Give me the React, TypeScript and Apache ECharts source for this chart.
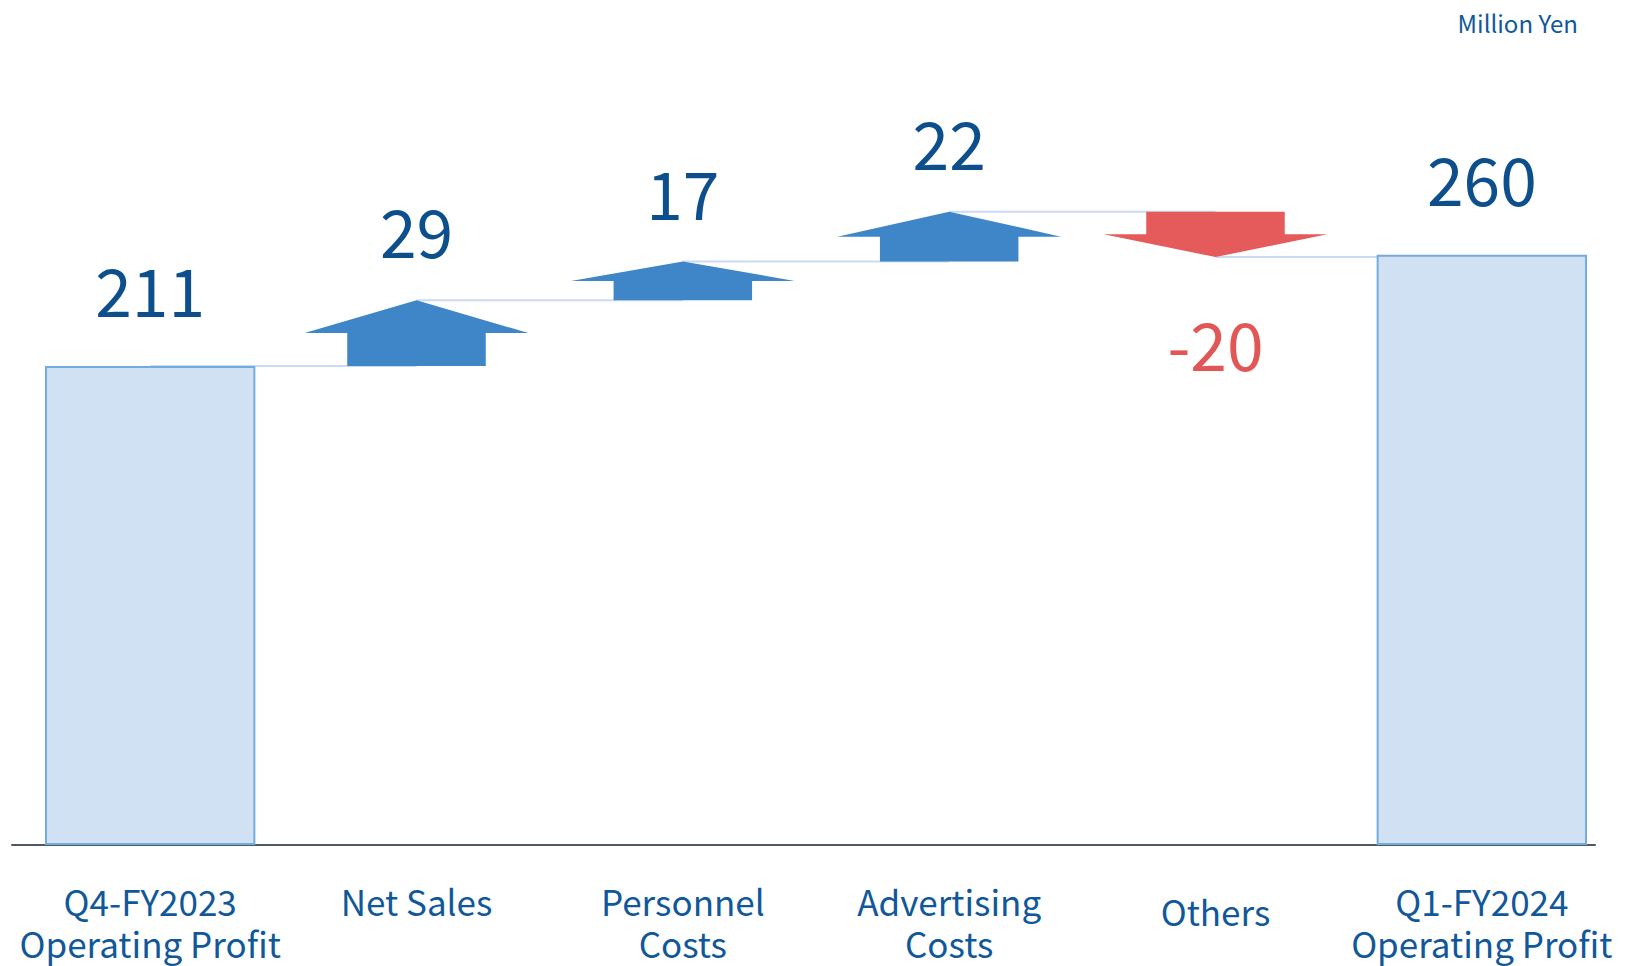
import React, { useEffect, useRef } from "react";
import * as echarts from "echarts";

const categories = [
  "Q4-FY2023\nOperating Profit",
  "Net Sales",
  "Personnel\nCosts",
  "Advertising\nCosts",
  "Others",
  "Q1-FY2024\nOperating Profit",
];
const startValue = 211;
const deltas = [29, 17, 22, -20];
const deltaLabels = ["29", "17", "22", "-20"];
const endValue = 260;
const unitLabel = "Million Yen";

const FONT = '"Noto Sans CJK JP", "Noto Sans", sans-serif';
const NAVY = "#0d4e8c";
const LABEL_BLUE = "#11589a";
const UP_BLUE = "#3f86c8";
const DOWN_RED = "#e55b5b";
const RED_TEXT = "#e25656";

export default function App() {
  const ref = useRef<HTMLDivElement>(null);

  useEffect(() => {
    if (!ref.current) return;
    const chart = echarts.init(ref.current, undefined, { renderer: "svg" });

    const arrowData: number[][] = [];
    let level = startValue;
    deltas.forEach((d, i) => {
      arrowData.push([i + 1, level, d]);
      level += d;
    });
    const connectorData: number[][] = [[0, startValue]];
    arrowData.forEach((a) => connectorData.push([a[0], a[1] + a[2]]));

    const barData = categories.map((_, i) =>
      i === 0 ? startValue : i === categories.length - 1 ? endValue : "-"
    );

    chart.setOption({
      animation: false,
      title: {
        text: unitLabel,
        right: 43,
        top: 5,
        textStyle: { fontFamily: FONT, fontSize: 24, fontWeight: "normal", color: LABEL_BLUE },
      },
      grid: [
        { left: 17, right: 11, top: 164, bottom: 121 },
        { left: 12, right: 31, top: 164, bottom: 121 },
      ],
      xAxis: [
        {
          type: "category",
          gridIndex: 0,
          data: categories,
          boundaryGap: true,
          axisLine: { show: false },
          axisTick: { show: false },
          axisLabel: {
            interval: 0,
            margin: 34,
            fontFamily: FONT,
            fontSize: 35,
            lineHeight: 42,
            color: LABEL_BLUE,
            formatter: (v: string) => (v === "Others" ? "{o|Others}" : v),
            rich: {
              o: { fontFamily: FONT, fontSize: 35, lineHeight: 62, color: LABEL_BLUE },
            },
          },
        },
        {
          type: "value",
          gridIndex: 1,
          min: 0,
          max: 1,
          axisLine: { show: true, onZero: false, lineStyle: { color: "#4f5866", width: 2 } },
          axisTick: { show: false },
          axisLabel: { show: false },
          splitLine: { show: false },
        },
      ],
      yAxis: [
        { type: "value", gridIndex: 0, min: 0, max: 300, show: false, splitLine: { show: false } },
        { type: "value", gridIndex: 1, min: 0, max: 1, show: false, splitLine: { show: false } },
      ],
      series: [
        {
          type: "custom",
          z: 1,
          data: connectorData,
          encode: { x: 0, y: 1 },
          renderItem: (params: any, api: any) => {
            const i = api.value(0);
            const v = api.value(1);
            const p0 = api.coord([i, v]);
            const p1 = api.coord([i + 1, v]);
            return {
              type: "line",
              shape: { x1: p0[0], y1: p0[1], x2: p1[0], y2: p1[1] },
              style: { stroke: "#c9dcf3", lineWidth: 2 },
            };
          },
        },
        {
          type: "bar",
          z: 3,
          data: barData,
          barWidth: "79%",
          itemStyle: { color: "#cfe1f3", borderColor: "#74abdd", borderWidth: 2 },
          label: {
            show: true,
            position: "top",
            distance: 45,
            fontFamily: FONT,
            fontSize: 66,
            color: NAVY,
          },
        },
        {
          type: "custom",
          z: 4,
          data: arrowData,
          encode: { x: 0, y: [1] },
          renderItem: (params: any, api: any) => {
            const i = api.value(0);
            const base = api.value(1);
            const d = api.value(2);
            const p0 = api.coord([i, base]);
            const p1 = api.coord([i, base + d]);
            const bw = api.size([1, 0])[0];
            const cx = p0[0];
            const hw = bw * 0.42;
            const sw = bw * 0.26;
            const mid = (p0[1] + p1[1]) / 2;
            const up = d >= 0;
            const color = up ? UP_BLUE : DOWN_RED;
            const labelY = up ? p1[1] - 71 : p1[1] + 85;
            return {
              type: "group",
              children: [
                {
                  type: "polygon",
                  shape: {
                    points: [
                      [cx - sw, p0[1]],
                      [cx - sw, mid],
                      [cx - hw, mid],
                      [cx, p1[1]],
                      [cx + hw, mid],
                      [cx + sw, mid],
                      [cx + sw, p0[1]],
                    ],
                  },
                  style: { fill: color },
                },
                {
                  type: "text",
                  x: cx,
                  y: labelY,
                  style: {
                    text: deltaLabels[params.dataIndex],
                    fill: up ? NAVY : RED_TEXT,
                    fontFamily: FONT,
                    fontSize: 66,
                    align: "center",
                    verticalAlign: "middle",
                  },
                },
              ],
            };
          },
        },
      ],
    });

    return () => chart.dispose();
  }, []);

  return (
    <div
      ref={ref}
      style={{ position: "fixed", left: 0, top: 0, width: 1626, height: 966, background: "#fff" }}
    />
  );
}
